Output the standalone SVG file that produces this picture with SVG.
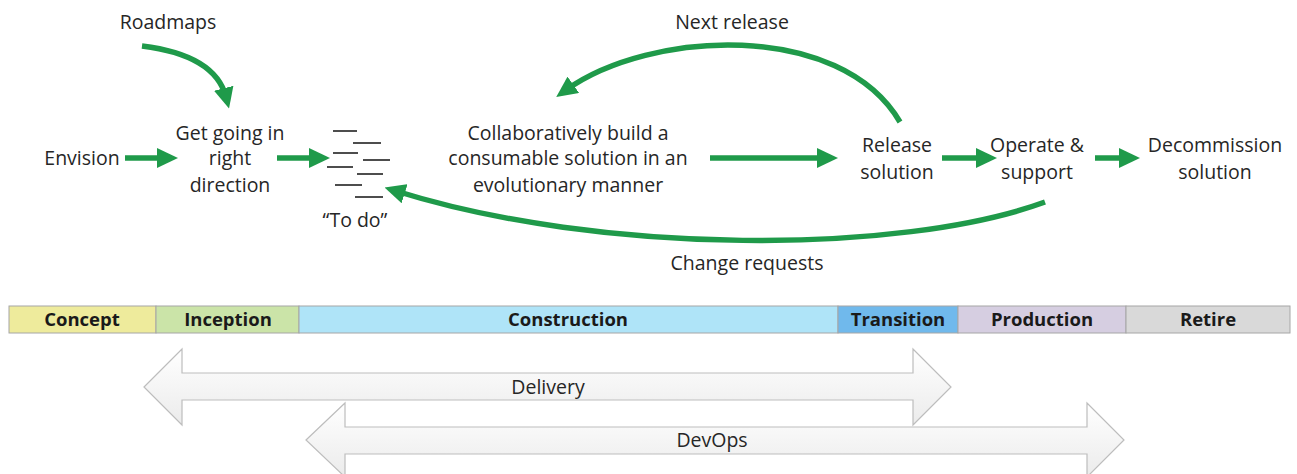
<svg xmlns="http://www.w3.org/2000/svg" width="1297" height="474" viewBox="0 0 1297 474">
<style>
.t{font-family:"Open Sans","Liberation Sans",sans-serif;font-size:19.5px;fill:#262626;text-anchor:middle}
.p{font-family:"Open Sans","Liberation Sans",sans-serif;font-size:18.5px;font-weight:bold;fill:#1a1a1a;text-anchor:middle}
.c{fill:none;stroke:#1f9a4a;stroke-width:5.5;marker-end:url(#ah)}
.todo line{stroke:#4d4d4d;stroke-width:2}
.phase rect{stroke:#a6a6a6;stroke-width:1}
.blk{fill:url(#bg);stroke:#bdbdbd;stroke-width:1.2}
</style>
<defs>
<marker id="ah" markerUnits="userSpaceOnUse" viewBox="0 0 21 20" markerWidth="21" markerHeight="20" refX="9" refY="10" orient="auto">
<path d="M0,0 L21,10 L0,20 z" fill="#1f9a4a"/>
</marker>
<linearGradient id="bg" x1="0" y1="0" x2="0" y2="1">
<stop offset="0" stop-color="#ffffff"/>
<stop offset="1" stop-color="#ebebeb"/>
</linearGradient>
</defs>
<rect width="1297" height="474" fill="#ffffff"/>

<g id="connectors">
<path class="c" d="M142,46 Q215,55 226,97"/>
<path class="c" d="M125,158 L166,158"/>
<path class="c" d="M277,158 L318,158"/>
<path class="c" d="M710,158 L826,158"/>
<path class="c" d="M942,158 L985,158"/>
<path class="c" d="M1095,158 L1128,158"/>
<path class="c" d="M900,122 C840,20 650,30 566,90"/>
<path class="c" d="M1045,202 C900,255 600,255 396,191"/>
</g>

<g id="roadmaps"><text class="t" x="168" y="29">Roadmaps</text></g>
<g id="envision"><text class="t" x="82" y="165">Envision</text></g>
<g id="get-going"><text class="t" x="230" y="140">Get going in</text><text class="t" x="230" y="165">right</text><text class="t" x="230" y="192">direction</text></g>
<g id="todo" class="todo">
<line x1="333" y1="131" x2="357" y2="131"/>
<line x1="353" y1="143" x2="381" y2="143"/>
<line x1="333" y1="153" x2="358" y2="153"/>
<line x1="363" y1="160" x2="390" y2="160"/>
<line x1="327" y1="167" x2="353" y2="167"/>
<line x1="357" y1="174" x2="383" y2="174"/>
<line x1="335" y1="185" x2="362" y2="185"/>
<line x1="355" y1="197" x2="383" y2="197"/>
<text class="t" x="355" y="227">“To do”</text>
</g>
<g id="build"><text class="t" x="568" y="140">Collaboratively build a</text><text class="t" x="568" y="165">consumable solution in an</text><text class="t" x="568" y="192">evolutionary manner</text></g>
<g id="next-release"><text class="t" x="732" y="29">Next release</text></g>
<g id="release"><text class="t" x="897" y="152">Release</text><text class="t" x="897" y="179">solution</text></g>
<g id="operate"><text class="t" x="1037" y="152">Operate &amp;</text><text class="t" x="1037" y="179">support</text></g>
<g id="decommission"><text class="t" x="1215" y="152">Decommission</text><text class="t" x="1215" y="179">solution</text></g>
<g id="change-requests"><text class="t" x="747" y="270">Change requests</text></g>

<g id="phases" class="phase">
<rect x="9" y="306" width="147" height="27" fill="#eeeb9c"/>
<rect x="156" y="306" width="143" height="27" fill="#cbe4a8"/>
<rect x="299" y="306" width="539" height="27" fill="#afe4f8"/>
<rect x="838" y="306" width="120" height="27" fill="#70b9ec"/>
<rect x="958" y="306" width="168" height="27" fill="#d6cee1"/>
<rect x="1126" y="306" width="164" height="27" fill="#d9d9d9"/>
<text class="p" x="82" y="326">Concept</text>
<text class="p" x="228" y="326">Inception</text>
<text class="p" x="568" y="326">Construction</text>
<text class="p" x="898" y="326">Transition</text>
<text class="p" x="1042" y="326">Production</text>
<text class="p" x="1208" y="326">Retire</text>
</g>

<g id="delivery">
<polygon class="blk" points="144,387 182,349 182,373 913,373 913,349 951,387 913,425 913,400 182,400 182,425"/>
<text class="t" x="548" y="394">Delivery</text>
</g>
<g id="devops">
<polygon class="blk" points="306,440 345,403 345,427 1087,427 1087,403 1124,440 1087,477 1087,454 345,454 345,477"/>
<text class="t" x="712" y="447">DevOps</text>
</g>
</svg>
